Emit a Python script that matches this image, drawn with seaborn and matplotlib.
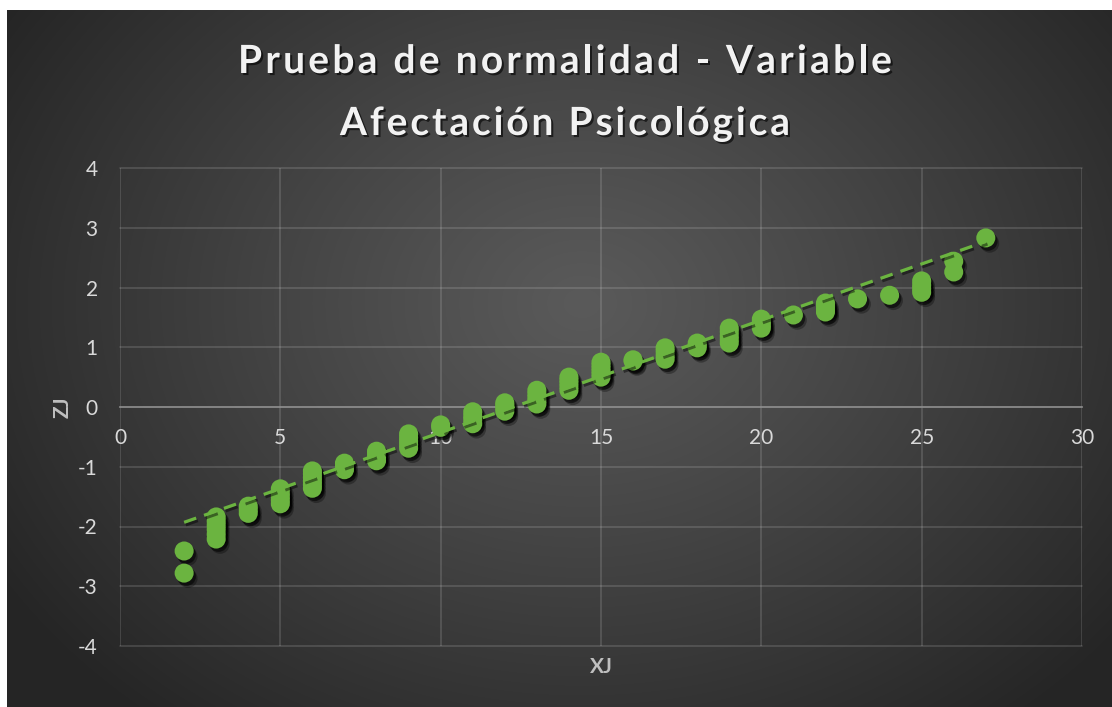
import numpy as np
import pandas as pd
import matplotlib
matplotlib.use("Agg")
import matplotlib.pyplot as plt
import matplotlib.patheffects as pe
import seaborn as sns

# ---------------- data ----------------
title_lines = ["Prueba de normalidad - Variable", "Afectación Psicológica"]
x_label = "XJ"
y_label = "ZJ"
x_ticks = [0, 5, 10, 15, 20, 25, 30]
y_ticks = [-4, -3, -2, -1, 0, 1, 2, 3, 4]

xj = [2, 2,
      3, 3, 3, 3, 3, 3,
      4, 4, 4,
      5, 5, 5, 5, 5,
      6, 6, 6, 6, 6, 6,
      7, 7, 7,
      8, 8, 8, 8,
      9, 9, 9, 9, 9,
      10, 10,
      11, 11, 11, 11,
      12, 12, 12, 12,
      13, 13, 13, 13, 13,
      14, 14, 14, 14, 14,
      15, 15, 15, 15, 15, 15,
      16, 16,
      17, 17, 17, 17,
      18, 18, 18,
      19, 19, 19, 19, 19,
      20, 20, 20, 20,
      21,
      22, 22, 22, 22,
      23,
      24,
      25, 25, 25, 25,
      26, 26,
      27]

zj = [-2.78, -2.41,
      -2.21, -2.13, -2.05, -1.98, -1.91, -1.84,
      -1.78, -1.72, -1.66,
      -1.62, -1.56, -1.50, -1.44, -1.37,
      -1.36, -1.30, -1.24, -1.18, -1.12, -1.07,
      -1.05, -1.00, -0.94,
      -0.90, -0.85, -0.79, -0.74,
      -0.69, -0.63, -0.57, -0.51, -0.45,
      -0.34, -0.30,
      -0.28, -0.21, -0.15, -0.08,
      -0.07, -0.02, 0.03, 0.07,
      0.05, 0.10, 0.16, 0.22, 0.28,
      0.28, 0.34, 0.40, 0.45, 0.50,
      0.50, 0.55, 0.60, 0.65, 0.70, 0.75,
      0.77, 0.79,
      0.80, 0.86, 0.93, 0.99,
      0.99, 1.03, 1.07,
      1.07, 1.13, 1.19, 1.26, 1.32,
      1.32, 1.37, 1.42, 1.47,
      1.54,
      1.59, 1.64, 1.69, 1.74,
      1.81,
      1.87,
      1.92, 1.98, 2.04, 2.11,
      2.26, 2.44,
      2.83]

trend_x = [2, 27]
trend_z = [-1.93, 2.77]

assert len(xj) == len(zj)

# ---------------- style ----------------
sns.set_theme(style="white")
plt.rcParams["font.family"] = ["Lato", "DejaVu Sans"]

W, H = 1112, 707
fig = plt.figure(figsize=(W / 100, H / 100), dpi=100)
fig.patch.set_facecolor("white")

# background gradient panel (chart area from x=7, y=10 to the edges)
bx0, by0 = 7, 10
bg_ax = fig.add_axes([bx0 / W, 0, 1 - bx0 / W, 1 - by0 / H])
bg_ax.set_axis_off()
gw, gh = W - bx0, H - by0
yy, xx = np.mgrid[0:gh, 0:gw]
cx, cy = gw * 0.52, gh * 0.42
t = np.sqrt(((xx - cx) / (gw * 0.62)) ** 2 + ((yy - cy) / (gh * 0.78)) ** 2)
t = np.clip(t, 0, 1) ** 1.1
c0, c1 = 0x5A / 255, 0x25 / 255
g = c0 + (c1 - c0) * t
bg_ax.imshow(np.dstack([g, g, g]), aspect="auto", extent=[0, 1, 0, 1],
             interpolation="bilinear")
bg_ax.set_xlim(0, 1)
bg_ax.set_ylim(0, 1)

# main plot area
left, right, top, bottom = 120, 1082, 168, 646
ax = fig.add_axes([left / W, 1 - bottom / H, (right - left) / W, (bottom - top) / H])
ax.set_facecolor("none")

green = "#6BB440"
df = pd.DataFrame({"XJ": xj, "ZJ": zj})
sns.scatterplot(data=df, x="XJ", y="ZJ", s=188, color=green, edgecolor="none",
                linewidth=0, ax=ax, zorder=3, legend=False,
                path_effects=[pe.SimplePatchShadow(offset=(2.8, -3.8), shadow_rgbFace="black", alpha=0.3),
                              pe.SimplePatchShadow(offset=(1.6, -2.4), shadow_rgbFace="black", alpha=0.55),
                              pe.Normal()])

tdf = pd.DataFrame({"x": trend_x, "z": trend_z})
sns.lineplot(data=tdf, x="x", y="z", color=green, ax=ax, zorder=4, linewidth=2.3,
             path_effects=[pe.SimpleLineShadow(offset=(1.2, -1.8), shadow_color="black", alpha=0.45),
                           pe.Normal()])
ln = ax.lines[-1]
ln.set_dashes([4.0, 2.6])
ln.set_dash_capstyle("butt")

ax.set_xlim(0, 30)
ax.set_ylim(-4, 4)
ax.set_xticks(x_ticks)
ax.set_yticks(y_ticks)
ax.set_xticklabels([str(v) for v in x_ticks])
ax.set_yticklabels([str(v) for v in y_ticks])
ax.grid(True, color="white", alpha=0.17, linewidth=1.1)
for gl in ax.get_xgridlines() + ax.get_ygridlines():
    gl.set_clip_on(False)
for s in ["top", "right", "left"]:
    ax.spines[s].set_visible(False)
ax.spines["bottom"].set_position(("data", 0))
ax.spines["bottom"].set_color("#8C8C8C")
ax.spines["bottom"].set_linewidth(1.2)
ax.spines["bottom"].set_zorder(2)
ax.tick_params(axis="both", length=0, labelsize=15, labelcolor="#D9D9D9")
ax.tick_params(axis="x", pad=15)
ax.tick_params(axis="y", pad=16)

ax.set_xlabel(x_label, fontsize=15, fontweight="bold", color="#BFBFBF")
ax.set_ylabel(y_label, fontsize=15, fontweight="bold", color="#BFBFBF")
ax.xaxis.set_label_coords(0.5, -0.023)
ax.yaxis.set_label_coords(-0.049, 0.5)

# ---------------- title with letter spacing ----------------
renderer = fig.canvas.get_renderer()
title_kw = dict(fontsize=28, fontweight="bold", color="#F2F2F2", family=["Lato", "DejaVu Sans"])


def text_w(s):
    tt = fig.text(0, 0, s + "|", **title_kw)
    w = tt.get_window_extent(renderer).width
    tt.remove()
    return w


def spaced_title(s, center_x, baseline_y, target_w):
    bar = text_w("")
    natural = text_w(s) - bar
    spacing = (target_w - natural) / (len(s) - 1)
    x0 = center_x - target_w / 2
    for i, ch in enumerate(s):
        if ch == " ":
            continue
        xi = x0 + (text_w(s[:i]) - bar if i > 0 else 0) + i * spacing
        fig.text(xi / W, 1 - baseline_y / H, ch, ha="left", va="baseline",
                 path_effects=[pe.SimplePatchShadow(offset=(1.5, -1.5), shadow_rgbFace="black", alpha=0.6),
                               pe.Normal()],
                 **title_kw)


spaced_title(title_lines[0], 565, 73, 654)
spaced_title(title_lines[1], 565, 135, 450)

fig.savefig("out.png", dpi=100)
